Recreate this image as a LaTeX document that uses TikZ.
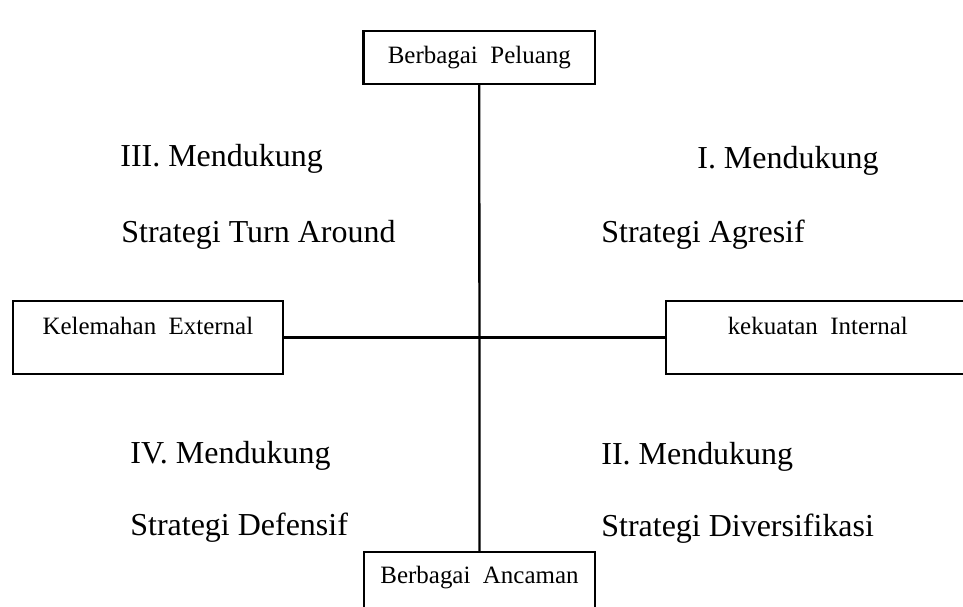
\documentclass[tikz,border=0pt]{standalone}
\usepackage{fontspec}
\setmainfont{Liberation Serif}
\usetikzlibrary{positioning}

\begin{document}
\begin{tikzpicture}[
		x=0.02cm, y=-0.02cm,
		kotak/.style={rectangle, draw, line width=1.3pt, inner sep=0pt},
		judul/.style={inner sep=0pt, anchor=base, font=\fontsize{14.2}{17}\selectfont},
		isi/.style={inner sep=0pt, anchor=base west, font=\fontsize{18.2}{22}\selectfont},
		garis/.style={line width=1.3pt}
		]
		\clip (0,0) rectangle (963,606);
		\useasboundingbox (0,0) rectangle (963,606);
		
		% Kotak faktor
		\node[kotak, minimum width=4.63cm, minimum height=1.06cm] (peluang) at (479.3,57.5) {};
		\node[kotak, minimum width=5.41cm, minimum height=1.46cm] (lemah) at (147.9,337.5) {};
		\node[kotak, minimum width=6.08cm, minimum height=1.46cm] (kuat) at (817.8,337.5) {};
		\node[kotak, minimum width=4.62cm, minimum height=1.46cm] (ancaman) at (479.5,588.5) {};
		
		\node[judul] (tpeluang) at ([yshift=-0.68cm]peluang.north) {Berbagai~ Peluang};
		\node[judul] (tlemah) at ([yshift=-0.70cm]lemah.north) {Kelemahan~ External};
		\node[judul] (tkuat) at ([yshift=-0.70cm]kuat.north) {kekuatan~ Internal};
		\node[judul] (tancaman) at ([yshift=-0.66cm]ancaman.north) {Berbagai~ Ancaman};
		
		% Sumbu
		\draw[garis] (peluang.south) -- (ancaman.north);
		\draw[garis] (lemah.east) -- (kuat.west);
		
		% Kuadran
		\node[isi] (k3a) at (120,166) {III. Mendukung};
		\node[isi] (k3b) at (121,242) {Strategi Turn Around};
		\node[isi] (k1a) at (697,168) {I. Mendukung};
		\node[isi] (k1b) at (601,242) {Strategi Agresif};
		\node[isi] (k4a) at (130,463) {IV. Mendukung};
		\node[isi] (k4b) at (130,535) {Strategi Defensif};
		\node[isi] (k2a) at (601,464) {II. Mendukung};
		\node[isi] (k2b) at (601,536) {Strategi Diversifikasi};
\end{tikzpicture}
\end{document}
